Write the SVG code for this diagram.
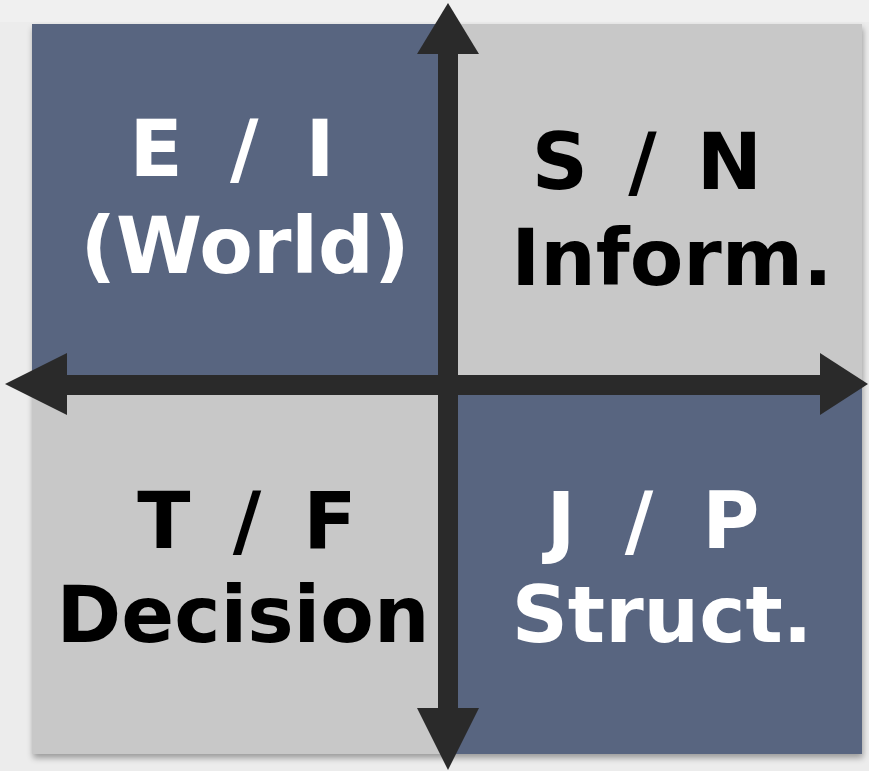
<svg xmlns="http://www.w3.org/2000/svg" width="869" height="771" viewBox="0 0 869 771">
  <defs>
    <filter id="sh" x="-5%" y="-5%" width="110%" height="110%">
      <feGaussianBlur in="SourceAlpha" stdDeviation="3"/>
      <feOffset dx="1" dy="4" result="b"/>
      <feComponentTransfer><feFuncA type="linear" slope="0.35"/></feComponentTransfer>
      <feMerge><feMergeNode/><feMergeNode in="SourceGraphic"/></feMerge>
    </filter>
  </defs>
  <style>
    .blue { fill: #586580; }
    .gray { fill: #c8c8c8; }
    .lbl { font-family: "DejaVu Sans", Verdana, sans-serif; font-weight: bold; font-size: 78px; text-anchor: middle; }
    .w { fill: #ffffff; }
    .k { fill: #000000; }
    .ax { fill: #2a2a2a; }
  </style>
  <rect x="0" y="0" width="869" height="771" fill="#ececec"/>
  <rect x="0" y="0" width="869" height="22" fill="#f0f0f0"/>
  <g filter="url(#sh)">
    <g id="ei">
      <rect class="blue" x="32" y="24" width="416" height="361"/>
      <text class="lbl w" x="232" y="176" word-spacing="20">E / I</text>
      <text class="lbl w" x="245" y="273">(World)</text>
    </g>
    <g id="sn">
      <rect class="gray" x="448" y="24" width="414" height="361"/>
      <text class="lbl k" x="647" y="189" word-spacing="13">S / N</text>
      <text class="lbl k" x="672" y="285">Inform.</text>
    </g>
    <g id="tf">
      <rect class="gray" x="32" y="385" width="416" height="369"/>
      <text class="lbl k" x="247" y="548" word-spacing="15">T / F</text>
      <text class="lbl k" x="243" y="642">Decision</text>
    </g>
    <g id="jp">
      <rect class="blue" x="448" y="385" width="414" height="369"/>
      <text class="lbl w" x="653" y="548" word-spacing="22">J / P</text>
      <text class="lbl w" x="662" y="642">Struct.</text>
    </g>
  </g>
  <g id="connectors">
    <g id="vertical-axis">
      <rect class="ax" x="438" y="50" width="20" height="662"/>
      <polygon class="ax" points="448,3 479,54 417,54"/>
      <polygon class="ax" points="448,770 479,708 417,708"/>
    </g>
    <g id="horizontal-axis">
      <rect class="ax" x="64" y="375" width="760" height="20"/>
      <polygon class="ax" points="5,384 67,353 67,415"/>
      <polygon class="ax" points="868,384 820,353 820,415"/>
    </g>
  </g>
</svg>
